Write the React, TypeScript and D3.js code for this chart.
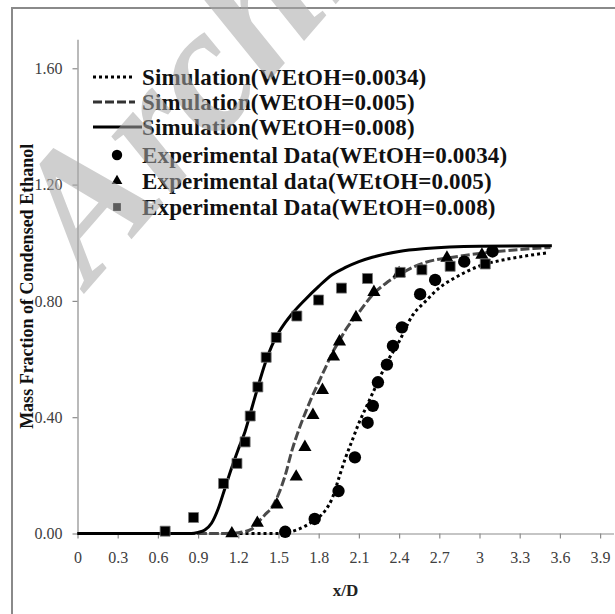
import React, { useRef, useEffect } from "react";
import * as d3 from "d3";

// axis ticks
const xTicks = [0, 0.3, 0.6, 0.9, 1.2, 1.5, 1.8, 2.1, 2.4, 2.7, 3, 3.3, 3.6, 3.9];
const yTicks = [0, 0.4, 0.8, 1.2, 1.6];

// simulation curves [x/D, mass fraction]
const sim0034: [number, number][] = [
  [0, 0], [1.5, 0], [1.55, 0.002], [1.65, 0.015], [1.75, 0.04], [1.85, 0.08], [1.9, 0.12],
  [1.95, 0.19], [2.0, 0.26], [2.05, 0.32], [2.1, 0.38], [2.15, 0.43], [2.2, 0.48], [2.25, 0.53],
  [2.3, 0.58], [2.4, 0.66], [2.5, 0.75], [2.6, 0.8], [2.7, 0.845], [2.8, 0.875], [2.9, 0.9],
  [3.0, 0.92], [3.2, 0.943], [3.35, 0.955], [3.5, 0.965],
];
const sim005: [number, number][] = [
  [0, 0], [1.1, 0], [1.2, 0.003], [1.3, 0.015], [1.35, 0.04], [1.4, 0.065], [1.45, 0.09],
  [1.5, 0.135], [1.55, 0.2], [1.6, 0.285], [1.65, 0.355], [1.7, 0.415], [1.75, 0.47], [1.8, 0.52],
  [1.85, 0.57], [1.9, 0.62], [1.95, 0.66], [2.0, 0.7], [2.1, 0.76], [2.2, 0.82], [2.3, 0.86],
  [2.4, 0.89], [2.5, 0.915], [2.6, 0.933], [2.8, 0.95], [3.0, 0.963], [3.2, 0.973], [3.4, 0.98],
  [3.53, 0.984],
];
const sim008: [number, number][] = [
  [0, 0], [0.85, 0], [0.9, 0.004], [0.95, 0.012], [1.0, 0.035], [1.05, 0.085], [1.1, 0.155],
  [1.15, 0.225], [1.2, 0.29], [1.25, 0.35], [1.3, 0.43], [1.35, 0.51], [1.4, 0.585], [1.45, 0.645],
  [1.5, 0.69], [1.55, 0.725], [1.6, 0.755], [1.7, 0.805], [1.8, 0.85], [1.9, 0.89], [2.0, 0.915],
  [2.1, 0.935], [2.2, 0.95], [2.4, 0.97], [2.6, 0.98], [3.0, 0.988], [3.54, 0.99],
];

// experimental points
const exp0034: [number, number][] = [
  [1.55, 0.006], [1.77, 0.05], [1.948, 0.146], [2.07, 0.262], [2.165, 0.381], [2.204, 0.439],
  [2.242, 0.52], [2.309, 0.581], [2.354, 0.645], [2.421, 0.709], [2.557, 0.823], [2.669, 0.872],
  [2.886, 0.935], [3.097, 0.97],
];
const exp005: [number, number][] = [
  [1.152, 0], [1.342, 0.036], [1.488, 0.099], [1.632, 0.195], [1.697, 0.297], [1.757, 0.407],
  [1.828, 0.493], [1.91, 0.608], [1.955, 0.66], [2.078, 0.743], [2.212, 0.83], [2.4, 0.895],
  [2.757, 0.948], [3.018, 0.958],
];
const exp008: [number, number][] = [
  [0.654, 0.008], [0.866, 0.055], [1.09, 0.172], [1.19, 0.241], [1.251, 0.315], [1.289, 0.404],
  [1.346, 0.504], [1.408, 0.606], [1.483, 0.674], [1.637, 0.748], [1.799, 0.803], [1.97, 0.844],
  [2.164, 0.877], [2.408, 0.898], [2.57, 0.907], [2.781, 0.919], [3.043, 0.927],
];

const legendLabels = [
  "Simulation(WEtOH=0.0034)",
  "Simulation(WEtOH=0.005)",
  "Simulation(WEtOH=0.008)",
  "Experimental Data(WEtOH=0.0034)",
  "Experimental data(WEtOH=0.005)",
  "Experimental Data(WEtOH=0.008)",
];

const SERIF = "'Liberation Serif', 'Times New Roman', serif";

export default function App() {
  const ref = useRef<SVGSVGElement>(null);

  useEffect(() => {
    if (!ref.current) return;
    const svg = d3.select(ref.current);
    svg.selectAll("*").remove();

    const x = d3.scaleLinear().domain([0, 4]).range([77.5, 613.5]);
    const y = d3.scaleLinear().domain([0, 1.7]).range([533.5, 39.2]);

    // outer frame
    svg
      .append("rect")
      .attr("x", 12)
      .attr("y", 8)
      .attr("width", 640)
      .attr("height", 640)
      .attr("fill", "none")
      .attr("stroke", "#8a8a8a")
      .attr("stroke-width", 2);

    // x axis
    const gx = svg
      .append("g")
      .attr("transform", `translate(0,${y(0)})`)
      .call(
        d3
          .axisBottom(x)
          .tickValues(xTicks)
          .tickSize(5)
          .tickSizeOuter(0)
          .tickPadding(13)
          .tickFormat((d) => String(d))
      );
    gx.selectAll("text").attr("fill", "#404040").attr("font-size", 16).attr("font-family", SERIF);

    // y axis
    const gy = svg
      .append("g")
      .attr("transform", `translate(${x(0)},0)`)
      .call(
        d3
          .axisLeft(y)
          .tickValues(yTicks)
          .tickSize(5)
          .tickSizeOuter(0)
          .tickPadding(10)
          .tickFormat(d3.format(".2f") as any)
      );
    gy.selectAll("text").attr("fill", "#404040").attr("font-size", 16).attr("font-family", SERIF);

    svg.selectAll(".domain, .tick line").attr("stroke", "#8c8c8c").attr("stroke-width", 1.2);

    // axis titles
    svg
      .append("text")
      .attr("x", (x(0) + x(4)) / 2)
      .attr("y", 596)
      .attr("text-anchor", "middle")
      .attr("font-family", SERIF)
      .attr("font-weight", "bold")
      .attr("font-size", 17)
      .attr("fill", "#222")
      .text("x/D");

    svg
      .append("text")
      .attr("transform", `translate(33,${(y(0) + y(1.7)) / 2}) rotate(-90)`)
      .attr("text-anchor", "middle")
      .attr("font-family", SERIF)
      .attr("font-weight", "bold")
      .attr("font-size", 18)
      .attr("fill", "#111")
      .text("Mass Fraction of Condensed Ethanol");

    // simulation lines
    const line = d3
      .line<[number, number]>()
      .x((d) => x(d[0]))
      .y((d) => y(d[1]))
      .curve(d3.curveMonotoneX);

    const lineStyles = [
      { data: sim0034, color: "#000", dash: "3,3", width: 3 },
      { data: sim005, color: "#4a4a4a", dash: "9,3", width: 3 },
      { data: sim008, color: "#000", dash: null, width: 3 },
    ];
    lineStyles.forEach((s) => {
      svg
        .append("path")
        .attr("d", line(s.data))
        .attr("fill", "none")
        .attr("stroke", s.color)
        .attr("stroke-width", s.width)
        .attr("stroke-dasharray", s.dash);
    });

    // markers
    const circle = d3.symbol().type(d3.symbolCircle).size(120);
    const tri = d3.symbol().type(d3.symbolTriangle).size(75);
    const sq = d3.symbol().type(d3.symbolSquare).size(100);

    svg
      .append("g")
      .selectAll("path")
      .data(exp0034)
      .enter()
      .append("path")
      .attr("d", circle as any)
      .attr("transform", (d) => `translate(${x(d[0])},${y(d[1])})`)
      .attr("fill", "#000");

    svg
      .append("g")
      .selectAll("path")
      .data(exp005)
      .enter()
      .append("path")
      .attr("d", tri as any)
      .attr("transform", (d) => `translate(${x(d[0])},${y(d[1])})`)
      .attr("fill", "#000");

    svg
      .append("g")
      .selectAll("path")
      .data(exp008)
      .enter()
      .append("path")
      .attr("d", sq as any)
      .attr("transform", (d) => `translate(${x(d[0])},${y(d[1])})`)
      .attr("fill", "#000")
      .attr("stroke", "#777")
      .attr("stroke-width", 0.8);

    // legend
    const rowY = [77, 102, 127, 155, 181, 207];
    const lg = svg.append("g");
    lineStyles.forEach((s, i) => {
      lg.append("line")
        .attr("x1", 93)
        .attr("x2", i === 2 ? 142 : 135)
        .attr("y1", rowY[i])
        .attr("y2", rowY[i])
        .attr("stroke", s.color === "#000" ? "#000" : "#333")
        .attr("stroke-width", 3)
        .attr("stroke-dasharray", s.dash);
    });
    lg.append("path").attr("d", d3.symbol().type(d3.symbolCircle).size(85)()).attr("transform", `translate(117,${rowY[3]})`);
    lg.append("path").attr("d", d3.symbol().type(d3.symbolTriangle).size(50)()).attr("transform", `translate(117,${rowY[4]})`);
    lg.append("path").attr("d", d3.symbol().type(d3.symbolSquare).size(60)()).attr("transform", `translate(117,${rowY[5]})`);

    lg.selectAll("text.lbl")
      .data(legendLabels)
      .enter()
      .append("text")
      .attr("class", "lbl")
      .attr("x", 142)
      .attr("y", (_d, i) => rowY[i] + 7.5)
      .attr("font-family", SERIF)
      .attr("font-weight", "bold")
      .attr("font-size", 23)
      .attr("letter-spacing", 0.15)
      .attr("fill", "#111")
      .text((d) => d);

    // watermark
    svg
      .append("text")
      .attr("transform", "translate(90,287) rotate(-49)")
      .attr("font-family", SERIF)
      .attr("font-style", "italic")
      .attr("font-weight", "bold")
      .attr("font-size", 180)
      .attr("fill", "#a8a8a8")
      .attr("opacity", 0.55)
      .text("Archive");

    return () => {
      svg.selectAll("*").remove();
    };
  }, []);

  return (
    <div style={{ position: "absolute", left: 0, top: 0 }}>
      <svg ref={ref} width={615} height={614} style={{ display: "block", background: "#fff" }} />
    </div>
  );
}
